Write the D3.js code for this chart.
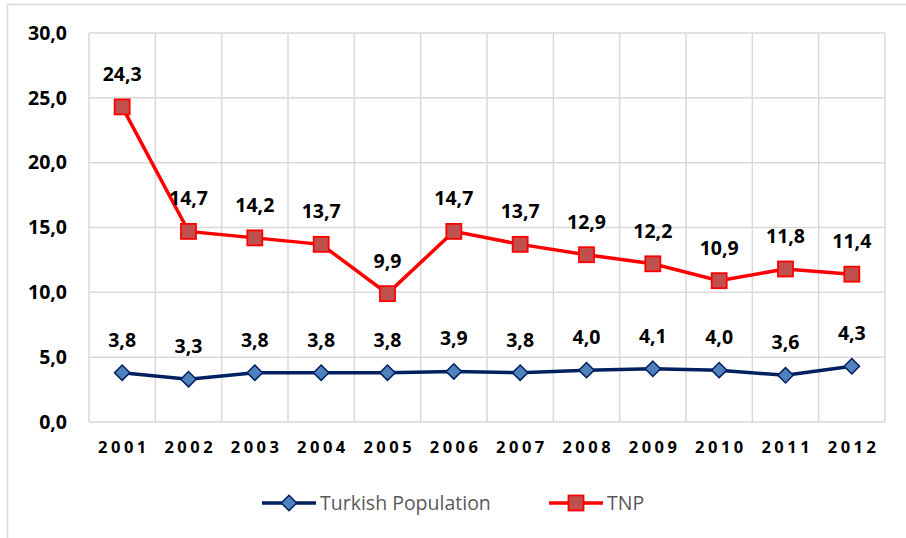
<!DOCTYPE html>
<html lang="en">
<head>
    <meta charset="UTF-8">
    <title>Turkish Population vs TNP</title>
    <script src="https://d3js.org/d3.v7.min.js"></script>
    <style>
        body { margin: 0; background: white; }
        svg { display: block; }
    </style>
</head>
<body>
    <svg></svg>
    <script>
        // Data
        var years = ["2001", "2002", "2003", "2004", "2005", "2006", "2007", "2008", "2009", "2010", "2011", "2012"];
        var turkish = [3.8, 3.3, 3.8, 3.8, 3.8, 3.9, 3.8, 4.0, 4.1, 4.0, 3.6, 4.3];
        var tnp = [24.3, 14.7, 14.2, 13.7, 9.9, 14.7, 13.7, 12.9, 12.2, 10.9, 11.8, 11.4];
        var yTicks = [0, 5, 10, 15, 20, 25, 30];

        var width = 906, height = 538;
        var svg = d3.select("svg").attr("width", width).attr("height", height);
        var font = "'Open Sans', sans-serif";
        var fmt = function(v) { return d3.format(".1f")(v).replace(".", ","); };

        // frame of the original figure
        svg.append("line").attr("x1", 7).attr("y1", 4.5).attr("x2", width).attr("y2", 4.5)
            .attr("stroke", "#d9d9d9").attr("stroke-width", 1.5);
        svg.append("line").attr("x1", 7.5).attr("y1", 4).attr("x2", 7.5).attr("y2", height)
            .attr("stroke", "#d9d9d9").attr("stroke-width", 1.5);

        var plot = {left: 89, right: 885, top: 33, bottom: 422};

        var x = d3.scaleBand().domain(years).range([plot.left, plot.right]);
        var y = d3.scaleLinear().domain([0, 30]).range([plot.bottom, plot.top]);
        var cx = function(i) { return x(years[i]) + x.bandwidth() / 2; };

        // grid
        var grid = svg.append("g").attr("stroke", "#d9d9d9").attr("stroke-width", 1.5);
        yTicks.forEach(function(t) {
            grid.append("line").attr("x1", plot.left).attr("x2", plot.right)
                .attr("y1", y(t)).attr("y2", y(t));
        });
        years.concat(["end"]).forEach(function(yr, i) {
            var gx = plot.left + i * x.bandwidth();
            grid.append("line").attr("x1", gx).attr("x2", gx)
                .attr("y1", plot.top).attr("y2", plot.bottom);
        });

        // y axis
        var yAxis = svg.append("g").attr("transform", "translate(" + (plot.left - 22) + ",0)")
            .call(d3.axisLeft(y).tickValues(yTicks).tickSize(0).tickPadding(0).tickFormat(fmt));
        yAxis.select(".domain").remove();
        yAxis.selectAll("text").attr("font-family", font).attr("font-weight", "bold")
            .attr("font-size", 19.5).attr("fill", "#000");

        // x axis
        var xAxis = svg.append("g").attr("transform", "translate(0," + plot.bottom + ")")
            .call(d3.axisBottom(x).tickSize(0).tickPadding(19));
        xAxis.select(".domain").remove();
        xAxis.selectAll("text").attr("font-family", font).attr("font-weight", "bold")
            .attr("font-size", 16.5).attr("fill", "#000").style("letter-spacing", "3.5px")
            .attr("dx", 1.75);

        var line = d3.line().x(function(d, i) { return cx(i); }).y(function(d) { return y(d); });

        // TNP series
        svg.append("path").datum(tnp).attr("d", line).attr("fill", "none")
            .attr("stroke", "#ff0000").attr("stroke-width", 3.5);
        svg.append("g").selectAll("rect").data(tnp).enter().append("rect")
            .attr("x", function(d, i) { return cx(i) - 7.5; })
            .attr("y", function(d) { return y(d) - 7.5; })
            .attr("width", 15).attr("height", 15)
            .attr("fill", "#c0504d").attr("stroke", "#ff0000").attr("stroke-width", 1.8);

        // Turkish population series
        var diamond = d3.symbol().type(d3.symbolDiamond2).size(150);
        svg.append("path").datum(turkish).attr("d", line).attr("fill", "none")
            .attr("stroke", "#002060").attr("stroke-width", 3.5);
        svg.append("g").selectAll("path").data(turkish).enter().append("path")
            .attr("d", diamond)
            .attr("transform", function(d, i) { return "translate(" + cx(i) + "," + y(d) + ")"; })
            .attr("fill", "#4f81bd").attr("stroke", "#002060").attr("stroke-width", 1.5);

        // data labels
        function labels(values) {
            svg.append("g").selectAll("text").data(values).enter().append("text")
                .attr("x", function(d, i) { return cx(i); })
                .attr("y", function(d) { return y(d) - 26; })
                .attr("text-anchor", "middle")
                .attr("font-family", font).attr("font-weight", "bold")
                .attr("font-size", 19.5).attr("fill", "#000")
                .text(fmt);
        }
        labels(tnp);
        labels(turkish);

        // legend
        var legend = svg.append("g").attr("transform", "translate(0,503)");
        legend.append("line").attr("x1", 262).attr("x2", 316).attr("stroke", "#002060")
            .attr("stroke-width", 3.5);
        legend.append("path").attr("d", diamond).attr("transform", "translate(289,0)")
            .attr("fill", "#4f81bd").attr("stroke", "#002060").attr("stroke-width", 1.5);
        legend.append("text").attr("x", 320).attr("y", 7).text("Turkish Population")
            .attr("font-family", font).attr("font-size", 19.5).attr("fill", "#595959");
        legend.append("line").attr("x1", 549).attr("x2", 603).attr("stroke", "#ff0000")
            .attr("stroke-width", 3.5);
        legend.append("rect").attr("x", 568.5).attr("y", -7.5).attr("width", 15).attr("height", 15)
            .attr("fill", "#c0504d").attr("stroke", "#ff0000").attr("stroke-width", 1.8);
        legend.append("text").attr("x", 607).attr("y", 7).text("TNP")
            .attr("font-family", font).attr("font-size", 19.5).attr("fill", "#595959");
    </script>
</body>
</html>
